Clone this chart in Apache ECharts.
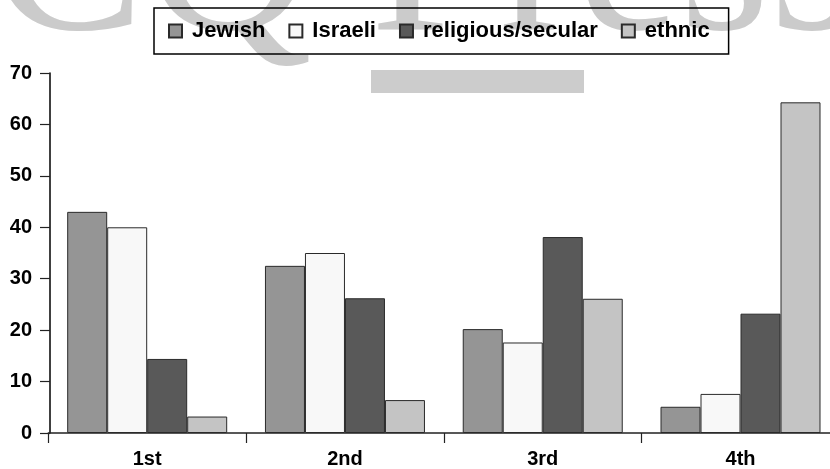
<!DOCTYPE html>
<html>
<head>
<meta charset="utf-8">
<script src="https://cdn.jsdelivr.net/npm/echarts@6/dist/echarts.min.js"></script>
<style>
  html, body { margin: 0; padding: 0; background: #ffffff; }
  #chart { width: 830px; height: 469px; }
</style>
</head>
<body>
<div id="chart"></div>
<script>
// Ranking of identity components (share of respondents, %)
const categories = ['1st', '2nd', '3rd', '4th'];
const seriesNames = ['Jewish', 'Israeli', 'religious/secular', 'ethnic'];
const jewish = [43.0, 32.5, 20.2, 5.1];
const israeli = [40.0, 35.0, 17.6, 7.6];
const religiousSecular = [14.4, 26.2, 38.1, 23.2];
const ethnic = [3.2, 6.4, 26.1, 64.3];
const yTicks = [0, 10, 20, 30, 40, 50, 60, 70];

const seriesValues = [jewish, israeli, religiousSecular, ethnic];
const fills = ['#959595', '#f8f8f8', '#595959', '#c4c4c4'];
const FONT = '"Liberation Sans", Arial, Helvetica, sans-serif';

const chart = echarts.init(document.getElementById('chart'), null, { renderer: 'canvas' });

chart.setOption({
  animation: false,
  backgroundColor: '#ffffff',
  graphic: [
    {
      // publisher mark behind the chart
      type: 'text',
      z: -10,
      silent: true,
      style: {
        text: 'CQ Press',
        x: -10,
        y: 84,
        font: 'normal 232px "Liberation Serif", "DejaVu Serif", serif',
        fill: '#cbcbcb',
        textVerticalAlign: 'bottom'
      }
    },
    {
      type: 'rect',
      z: -10,
      silent: true,
      shape: { x: 371, y: 70, width: 213, height: 23 },
      style: { fill: '#cccccc' }
    }
  ],
  legend: {
    left: 154,
    top: 8,
    padding: [12, 19, 12, 14],
    itemGap: 23,
    itemWidth: 13,
    itemHeight: 13,
    borderColor: '#000000',
    borderWidth: 1.5,
    icon: 'rect',
    data: seriesNames,
    textStyle: {
      fontFamily: FONT,
      fontWeight: 'bold',
      fontSize: 22,
      color: '#000000',
      padding: [0, 0, 0, 5]
    }
  },
  grid: {
    left: 48.3,
    top: 73,
    right: -9.4,
    bottom: 36,
    outerBoundsMode: 'none',
    containLabel: false
  },
  xAxis: {
    type: 'category',
    data: categories,
    axisLine: { lineStyle: { color: '#222222', width: 1.5 } },
    axisTick: { show: true, length: 10, lineStyle: { color: '#222222', width: 1.2 } },
    axisLabel: {
      margin: 16,
      fontFamily: FONT,
      fontWeight: 'bold',
      fontSize: 20,
      color: '#000000'
    },
    splitLine: { show: false }
  },
  yAxis: {
    type: 'value',
    min: yTicks[0],
    max: yTicks[yTicks.length - 1],
    interval: yTicks[1] - yTicks[0],
    offset: -1.7,
    axisLine: { show: true, lineStyle: { color: '#000000', width: 1.5 } },
    axisTick: { show: true, length: 10, lineStyle: { color: '#222222', width: 1.2 } },
    axisLabel: {
      margin: 18,
      fontFamily: FONT,
      fontWeight: 'bold',
      fontSize: 20,
      color: '#000000'
    },
    splitLine: { show: false }
  },
  series: seriesNames.map(function (name, i) {
    return {
      name: name,
      type: 'bar',
      data: seriesValues[i],
      barWidth: 40,
      barGap: '0%',
      itemStyle: {
        color: fills[i],
        borderColor: '#2a2a2a',
        borderWidth: 1
      }
    };
  })
});
</script>
</body>
</html>
